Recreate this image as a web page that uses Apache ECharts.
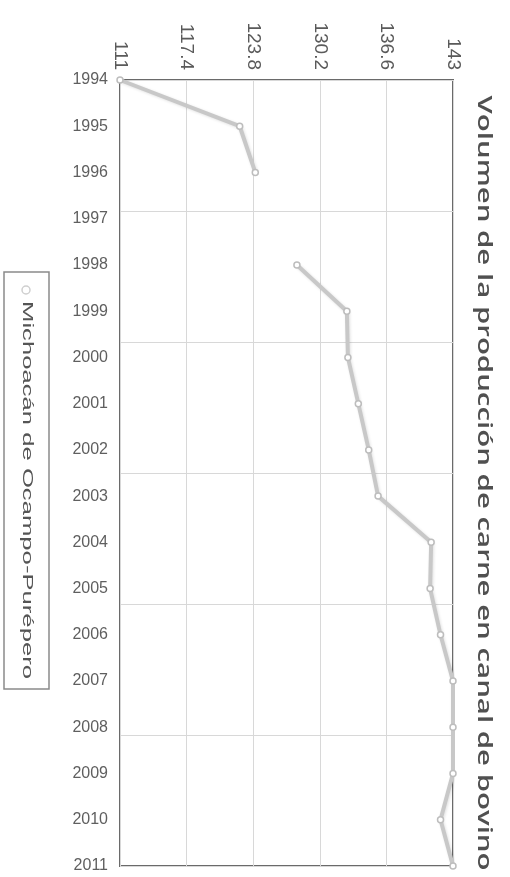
<!DOCTYPE html>
<html>
<head>
<meta charset="utf-8">
<script src="https://cdn.jsdelivr.net/npm/echarts@6/dist/echarts.min.js"></script>
<style>html,body{margin:0;padding:0;background:#fff;}#c{width:510px;height:877px;}</style>
</head>
<body>
<div id="c"></div>
<script>
const titleText = 'Volumen de la producción de carne en canal de bovino';
const seriesName = 'Michoacán de Ocampo-Purépero';
const years = ['1994','1995','1996','1997','1998','1999','2000','2001','2002','2003','2004','2005','2006','2007','2008','2009','2010','2011'];
const values = [111, 122.5, 124, null, 128, 132.8, 132.9, 133.9, 134.9, 135.8, 140.9, 140.8, 141.8, 143, 143, 143, 141.8, 143];
const valueTicks = [111, 117.4, 123.8, 130.2, 136.6, 143];

function measure(text, font) {
  const ctx = document.createElement('canvas').getContext('2d');
  ctx.font = font;
  return ctx.measureText(text).width;
}
const titleFont = '600 20px "Open Sans"';
const legendFont = '14px "Liberation Sans"';
const titleScale = 775 / measure(titleText, titleFont);
const legendScale = 378 / measure(seriesName, legendFont);

const chart = echarts.init(document.getElementById('c'));
chart.setOption({
  animation: false,
  backgroundColor: '#fff',
  grid: { left: 120, right: 57, top: 80, bottom: 11, show: true, borderColor: '#6a6a6a', borderWidth: 2, backgroundColor: 'transparent' },
  xAxis: {
    type: 'value', position: 'top', min: 111, max: 143,
    axisLine: { show: false }, axisTick: { show: false, customValues: valueTicks },
    axisLabel: { customValues: valueTicks, rotate: -90, fontSize: 19, color: '#5a5a5a', fontFamily: 'Liberation Sans', margin: 10 },
    splitLine: { show: true, lineStyle: { color: '#d8d8d8', width: 1 } }
  },
  yAxis: [
    {
      type: 'category', data: years, inverse: true, boundaryGap: false,
      axisLine: { show: false }, axisTick: { show: false },
      axisLabel: { fontSize: 16, color: '#5f5f5f', fontFamily: 'Liberation Sans', margin: 12 },
      splitLine: { show: false }
    },
    {
      type: 'value', min: 0, max: 6, interval: 1,
      axisLine: { show: false }, axisTick: { show: false }, axisLabel: { show: false },
      splitLine: { show: true, lineStyle: { color: '#d8d8d8', width: 1 } }
    }
  ],
  series: [{
    name: seriesName, type: 'line', yAxisIndex: 0, data: values, connectNulls: false,
    symbol: 'circle', symbolSize: 6,
    lineStyle: { color: '#c8c8c8', width: 4, shadowColor: 'rgba(0,0,0,0.12)', shadowBlur: 3, shadowOffsetX: 1, shadowOffsetY: 1 },
    itemStyle: { color: '#fff', borderColor: '#bdbdbd', borderWidth: 1.5 },
    z: 5
  }],
  graphic: [
    { type: 'text', x: 484, y: 483, rotation: -Math.PI / 2, scaleX: titleScale,
      style: { text: titleText, font: titleFont, fill: '#505050', textAlign: 'center', textVerticalAlign: 'middle' } },
    { type: 'rect', shape: { x: 4, y: 272, width: 45, height: 417 },
      style: { fill: '#fff', stroke: '#8a8a8a', lineWidth: 1.5 } },
    { type: 'circle', shape: { cx: 26, cy: 290, r: 4 },
      style: { fill: '#fff', stroke: '#cfcfcf', lineWidth: 1.5 } },
    { type: 'text', x: 27, y: 490, rotation: -Math.PI / 2, scaleX: legendScale,
      style: { text: seriesName, font: legendFont, fill: '#555', textAlign: 'center', textVerticalAlign: 'middle' } }
  ]
});
</script>
</body>
</html>
